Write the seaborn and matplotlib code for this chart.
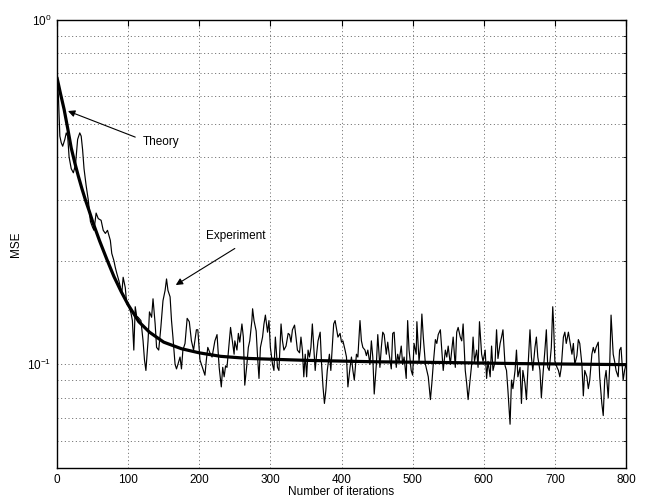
import numpy as np
import pandas as pd
import matplotlib
matplotlib.use("Agg")
import matplotlib.pyplot as plt
import matplotlib.ticker as mticker
import seaborn as sns

# ---------------- data ----------------
theory_iter = [0, 5, 10, 15, 20, 25, 30, 35, 40, 45, 50, 60, 70, 80, 90, 100,
               115, 130, 150, 175, 200, 230, 270, 350, 450, 550, 650, 800]
theory_mse = [0.68, 0.61, 0.55, 0.485, 0.425, 0.385, 0.352, 0.324, 0.30, 0.28,
              0.26, 0.228, 0.202, 0.18, 0.163, 0.149, 0.133, 0.124, 0.116,
              0.111, 0.108, 0.1055, 0.104, 0.1027, 0.1017, 0.1012, 0.1005, 0.0998]

exp_iter = [0, 2, 4, 6, 8, 11, 13, 15, 17, 20, 23, 26, 29, 32, 34, 36, 38, 41, 44, 47,
            50, 52, 55, 58, 62, 65, 68, 71, 75, 77, 80, 82, 84, 87, 89, 91, 93, 96, 98, 101,
            104, 106, 108, 110, 112,
            114, 118, 121, 123, 125, 128, 130, 133, 135, 138, 140, 143, 146, 149, 152, 154,
            156, 159, 161, 163, 166, 168, 170, 173, 175, 177, 180, 183, 186, 189, 192, 196,
            198, 201, 203, 205, 208, 210, 212, 215, 218, 222, 225, 228,
            231, 233, 235, 237, 239, 242, 244, 247, 249, 250, 253, 255, 257, 260, 262, 264,
            267, 269, 271, 274, 275, 277, 280, 282, 284, 286, 289, 291, 293, 296, 298, 300,
            303, 305, 307, 310, 312, 315, 317, 319, 322, 325, 327, 329, 331, 334, 336, 338,
            341, 343, 345, 347,
            349, 351, 353, 355, 357, 359, 361, 363, 365, 367, 370, 372, 374, 376, 378, 380,
            383, 385, 387, 389, 391, 393, 395, 398, 400, 402, 405, 407, 409, 412, 414, 416,
            418, 421, 423, 426, 428, 430, 433, 435, 437, 440, 442, 444, 446, 449, 451, 454,
            456, 458, 460, 463,
            465, 467, 470, 472, 474, 477, 479, 481, 484, 486, 488, 491, 493, 495, 498, 500,
            502, 505, 506, 509, 511, 513, 515, 518, 520, 522, 525, 527, 529, 532, 534, 536,
            539, 541, 543, 546, 548, 550, 553, 555, 557, 560, 562, 564, 567, 569, 571, 574,
            576, 578,
            583, 585, 587, 590, 592, 594, 597, 599, 602, 604, 606, 609, 611, 613, 616,
            618, 620, 623, 625, 627, 630, 632, 634, 637, 639, 641, 644, 646, 648, 651, 653,
            655, 658, 660, 662, 665, 667, 669, 672, 674, 676, 679, 681, 683, 686, 688, 690,
            692, 695, 697, 698, 700, 703, 705, 707, 709, 712, 714, 716, 719, 721, 724, 726,
            728, 731, 733, 735, 738, 740, 742, 745, 747, 749, 752, 754, 756, 758, 761, 763,
            766, 768, 770, 772, 775, 777, 779, 782, 784, 786, 789, 791, 793, 796, 798, 800]
exp_mse = [0.68, 0.60, 0.46, 0.44, 0.43, 0.45, 0.47, 0.46, 0.40, 0.37, 0.36, 0.38, 0.45,
           0.47, 0.46, 0.42, 0.37, 0.33, 0.30, 0.26, 0.25, 0.245, 0.275, 0.265, 0.262,
           0.245, 0.24, 0.245, 0.229, 0.21, 0.20, 0.191, 0.184, 0.175, 0.168, 0.16, 0.179,
           0.167, 0.15, 0.147, 0.141, 0.134, 0.11, 0.147, 0.138,
           0.137, 0.134, 0.117, 0.103, 0.096, 0.117, 0.142, 0.137, 0.155, 0.131, 0.112,
           0.11, 0.128, 0.153, 0.164, 0.177, 0.164, 0.157, 0.134, 0.12, 0.1, 0.097, 0.1,
           0.105, 0.097, 0.11, 0.115, 0.136, 0.133, 0.117, 0.11, 0.126, 0.126, 0.103, 0.1,
           0.097, 0.093, 0.103, 0.112, 0.108, 0.105, 0.117, 0.122, 0.098,
           0.086, 0.098, 0.092, 0.099, 0.098, 0.115, 0.128, 0.115, 0.107, 0.117, 0.11,
           0.123, 0.116, 0.131, 0.12, 0.087, 0.1, 0.112, 0.117, 0.134, 0.145, 0.134, 0.125,
           0.105, 0.091, 0.112, 0.12, 0.131, 0.139, 0.124, 0.134, 0.112, 0.1, 0.096, 0.12,
           0.098, 0.096, 0.131, 0.117, 0.11, 0.113, 0.123, 0.122, 0.116, 0.126, 0.13, 0.12,
           0.11, 0.108, 0.12, 0.11, 0.092,
           0.107, 0.092, 0.11, 0.105, 0.112, 0.131, 0.112, 0.096, 0.107, 0.117, 0.124, 0.1,
           0.086, 0.077, 0.084, 0.096, 0.107, 0.096, 0.112, 0.131, 0.134, 0.127, 0.12,
           0.123, 0.116, 0.117, 0.11, 0.105, 0.086, 0.098, 0.105, 0.096, 0.09, 0.107, 0.105,
           0.134, 0.117, 0.112, 0.11, 0.106, 0.11, 0.1, 0.117, 0.105, 0.082, 0.1, 0.122,
           0.098, 0.112, 0.124, 0.122, 0.107,
           0.116, 0.107, 0.097, 0.123, 0.124, 0.098, 0.107, 0.102, 0.113, 0.1, 0.105, 0.091,
           0.134, 0.11, 0.096, 0.093, 0.115, 0.107, 0.133, 0.102, 0.112, 0.14, 0.12, 0.1,
           0.096, 0.092, 0.079, 0.088, 0.1, 0.118, 0.115, 0.122, 0.126, 0.11, 0.096, 0.11,
           0.105, 0.113, 0.1, 0.11, 0.12, 0.098, 0.124, 0.128, 0.12, 0.117, 0.131, 0.096,
           0.088, 0.079,
           0.1, 0.12, 0.102, 0.11, 0.098, 0.133, 0.107, 0.102, 0.11, 0.091, 0.102, 0.092,
           0.113, 0.096, 0.102, 0.126, 0.104, 0.115, 0.12, 0.126, 0.099, 0.096, 0.084,
           0.067, 0.09, 0.085, 0.096, 0.11, 0.092, 0.098, 0.077, 0.096, 0.088, 0.079, 0.096,
           0.126, 0.105, 0.096, 0.112, 0.12, 0.105, 0.096, 0.08, 0.092, 0.11, 0.126, 0.098,
           0.096, 0.112, 0.147, 0.134, 0.102, 0.098, 0.096, 0.092, 0.098, 0.12, 0.124,
           0.115, 0.124, 0.117, 0.107, 0.115, 0.1, 0.106, 0.118, 0.115, 0.1, 0.081, 0.096,
           0.092, 0.085, 0.09, 0.107, 0.112, 0.108, 0.112, 0.116, 0.092, 0.077, 0.071, 0.09,
           0.096, 0.08, 0.098, 0.139, 0.107, 0.102, 0.096, 0.092, 0.11, 0.112, 0.09, 0.096,
           0.1]

x_ticks = [0, 100, 200, 300, 400, 500, 600, 700, 800]
x_label = "Number of iterations"
y_label = "MSE"
label_theory = "Theory"
label_experiment = "Experiment"

# ---------------- plot ----------------
sns.set_style("white")
plt.rcParams["font.family"] = ["Liberation Sans", "DejaVu Sans"]
plt.rcParams["mathtext.fontset"] = "custom"
plt.rcParams["mathtext.rm"] = "Liberation Sans"
plt.rcParams["mathtext.it"] = "Liberation Sans:italic"
plt.rcParams["text.color"] = "black"
plt.rcParams["axes.labelcolor"] = "black"
plt.rcParams["xtick.color"] = "black"
plt.rcParams["ytick.color"] = "black"

fig = plt.figure(figsize=(6.53, 4.99), dpi=100)
ax = fig.add_axes([57 / 653, 1 - 468 / 499, (626 - 57) / 653, (468 - 20) / 499])

df_exp = pd.DataFrame({"iter": exp_iter, "mse": exp_mse})
df_th = pd.DataFrame({"iter": theory_iter, "mse": theory_mse})

sns.lineplot(data=df_exp, x="iter", y="mse", ax=ax, color="black", lw=0.85,
             estimator=None, sort=False, zorder=3)
sns.lineplot(data=df_th, x="iter", y="mse", ax=ax, color="black", lw=2.3,
             estimator=None, sort=False, zorder=4)

ax.set_yscale("log")
ax.set_xlim(0, 800)
ax.set_ylim(0.05, 1.0)
ax.set_xticks(x_ticks)
ax.set_xticklabels([str(t) for t in x_ticks])
ax.yaxis.set_major_locator(mticker.LogLocator(base=10, numticks=10))
ax.yaxis.set_minor_locator(mticker.LogLocator(base=10, subs=np.arange(2, 10), numticks=20))
ax.yaxis.set_minor_formatter(mticker.NullFormatter())

grid_kw = dict(color="0.3", lw=0.6, linestyle=(0, (1.2, 3.2)))
ax.grid(True, which="major", axis="both", **grid_kw)
ax.grid(True, which="minor", axis="y", **grid_kw)

ax.tick_params(which="both", direction="in", top=True, right=True,
               labelsize=8.5, colors="black", labelcolor="black", pad=4)
ax.tick_params(which="major", length=4.5, width=0.8)
ax.tick_params(which="minor", length=2.5, width=0.6)
for s in ax.spines.values():
    s.set_color("black")
    s.set_linewidth(1.0)

ax.set_xlabel(x_label, fontsize=8.5, labelpad=0.5, color="black")
ax.set_ylabel(y_label, fontsize=8.5, labelpad=4, color="black")

arrow_kw = dict(arrowstyle="-|>", color="black", lw=0.8, mutation_scale=10,
                shrinkA=0, shrinkB=0)
ax.annotate("", xy=(15.5, 0.544), xytext=(110, 0.457), arrowprops=arrow_kw, zorder=5)
ax.text(120, 0.443, label_theory, fontsize=8.5, ha="left", va="center", color="black")
ax.annotate("", xy=(167, 0.170), xytext=(250, 0.217), arrowprops=arrow_kw, zorder=5)
ax.text(252, 0.236, label_experiment, fontsize=8.5, ha="center", va="center", color="black")

fig.savefig("out.png", dpi=100)
